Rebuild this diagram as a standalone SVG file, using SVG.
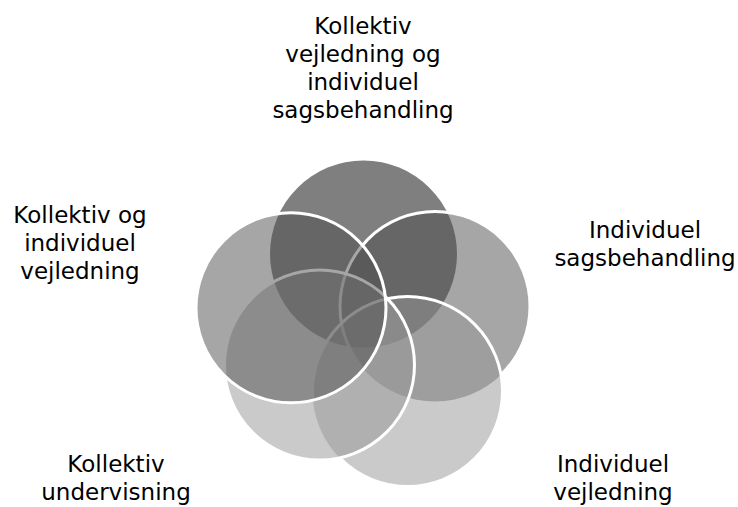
<svg xmlns="http://www.w3.org/2000/svg" xmlns:xlink="http://www.w3.org/1999/xlink" width="738" height="507" viewBox="0 0 738 507">
<style>
  .lbl { font-family: "DejaVu Sans", Verdana, sans-serif; font-size: 23px; fill: #000; text-anchor: middle; }
  .dark { fill: #000; fill-opacity: 0.5; }
  .mid { fill: #4d4d4d; fill-opacity: 0.5; }
  .light { fill: #959595; fill-opacity: 0.5; }
  .ring { fill: none; stroke: #fff; stroke-width: 3; }
</style>
<defs>
  <circle id="cT" cx="363.5" cy="254" r="93.5"/>
  <circle id="cR" cx="435" cy="306.5" r="95"/>
  <circle id="cBR" cx="407.5" cy="391.5" r="95"/>
  <circle id="cBL" cx="319.5" cy="365" r="95"/>
  <circle id="cL" cx="291" cy="307.8" r="95"/>
  <mask id="mR" maskUnits="userSpaceOnUse" x="0" y="0" width="738" height="507">
    <rect width="738" height="507" fill="#fff"/>
    <use xlink:href="#cBR" fill="#000"/>
    <use xlink:href="#cBL" fill="#000"/>
    <use xlink:href="#cL" fill="#fff"/>
  </mask>
  <mask id="mBR" maskUnits="userSpaceOnUse" x="0" y="0" width="738" height="507">
    <rect width="738" height="507" fill="#fff"/>
    <use xlink:href="#cBL" fill="#000"/>
    <use xlink:href="#cL" fill="#fff"/>
  </mask>
</defs>
<rect width="738" height="507" fill="#fff"/>

<g id="node-top">
  <use xlink:href="#cT" class="dark"/>
  <text class="lbl" x="363" y="34">Kollektiv</text>
  <text class="lbl" x="363" y="62">vejledning og</text>
  <text class="lbl" x="363" y="90">individuel</text>
  <text class="lbl" x="363" y="118">sagsbehandling</text>
</g>

<g id="node-right">
  <use xlink:href="#cR" class="mid"/>
  <use xlink:href="#cR" class="ring" mask="url(#mR)"/>
  <text class="lbl" x="645" y="238">Individuel</text>
  <text class="lbl" x="645" y="266">sagsbehandling</text>
</g>

<g id="node-bottom-right">
  <use xlink:href="#cBR" class="light"/>
  <use xlink:href="#cBR" class="ring" mask="url(#mBR)"/>
  <text class="lbl" x="613" y="472">Individuel</text>
  <text class="lbl" x="613" y="500">vejledning</text>
</g>

<g id="node-bottom-left">
  <use xlink:href="#cBL" class="light"/>
  <use xlink:href="#cBL" class="ring"/>
  <text class="lbl" x="116" y="472">Kollektiv</text>
  <text class="lbl" x="116" y="500">undervisning</text>
</g>

<g id="node-left">
  <use xlink:href="#cL" class="mid"/>
  <use xlink:href="#cL" class="ring"/>
  <text class="lbl" x="80" y="223">Kollektiv og</text>
  <text class="lbl" x="80" y="251">individuel</text>
  <text class="lbl" x="80" y="279">vejledning</text>
</g>
</svg>
